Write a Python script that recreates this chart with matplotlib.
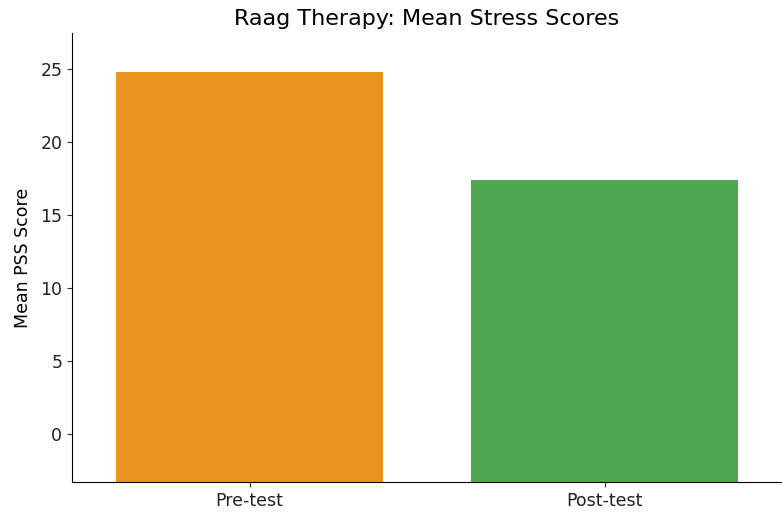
import matplotlib
matplotlib.use("Agg")
import matplotlib.pyplot as plt

categories = ["Pre-test", "Post-test"]
mean_scores = [24.8, 17.4]
colors = ["#E8941E", "#50A853"]

fig = plt.figure(figsize=(7.82, 5.12), dpi=100)
ax = fig.add_axes([72/782, 30/512, 710/782, 449/512])

ymin, ymax = -3.3, 27.5
ax.bar(categories, [v - ymin for v in mean_scores], bottom=ymin, width=0.75, color=colors)
ax.set_ylim(ymin, ymax)
ax.set_xlim(-0.5, 1.5)
ax.set_yticks([0, 5, 10, 15, 20, 25])
ax.tick_params(labelsize=12.5, colors="#333333", labelcolor="#222222")
ax.set_ylabel("Mean PSS Score", fontsize=12.5, labelpad=6)
ax.set_title("Raag Therapy: Mean Stress Scores", fontsize=16, pad=6)
for s in ["top", "right"]:
    ax.spines[s].set_visible(False)

fig.savefig("out.png", dpi=100)
